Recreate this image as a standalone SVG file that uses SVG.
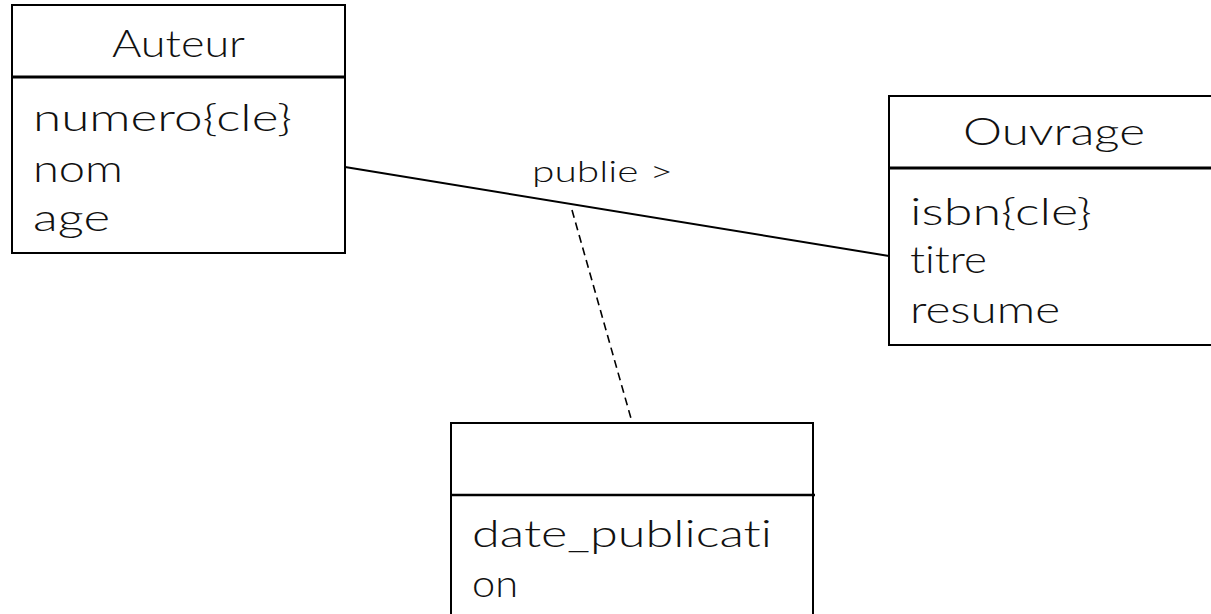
<svg xmlns="http://www.w3.org/2000/svg" width="1211" height="614" viewBox="0 0 1211 614">
<style>
.box{fill:#fff;stroke:#000;stroke-width:2}
.sep{stroke:#000;stroke-width:3}
.t{font-family:"Lato","Liberation Sans",sans-serif;font-weight:300;font-size:38px;fill:#111;font-variant-ligatures:none;font-feature-settings:"liga" 0,"dlig" 0}
.lbl{font-family:"Lato","Liberation Sans",sans-serif;font-weight:300;font-size:29px;fill:#111;font-variant-ligatures:none}
.assoc{stroke:#000;stroke-width:2;fill:none}
.dash{stroke:#000;stroke-width:1.6;fill:none;stroke-dasharray:8,5}
</style>
<rect width="1211" height="614" fill="#fff"/>
<g id="connectors">
<line class="assoc" x1="345" y1="167" x2="889" y2="256"/>
<line class="dash" x1="572" y1="210" x2="632" y2="422"/>
<text class="lbl" x="532" y="182" textLength="141" lengthAdjust="spacingAndGlyphs">publie &gt;</text>
</g>
<g id="auteur">
<rect class="box" x="12" y="5" width="333" height="248"/>
<line class="sep" x1="12" y1="77" x2="346" y2="77"/>
<text class="t" x="112" y="57" textLength="133" lengthAdjust="spacingAndGlyphs">Auteur</text>
<text class="t" x="33" y="131" textLength="259" lengthAdjust="spacingAndGlyphs">numero{cle}</text>
<text class="t" x="33" y="182" textLength="90" lengthAdjust="spacingAndGlyphs">nom</text>
<text class="t" x="33" y="231" textLength="77" lengthAdjust="spacingAndGlyphs">age</text>
</g>
<g id="ouvrage">
<rect class="box" x="889" y="96" width="330" height="249"/>
<line class="sep" x1="889" y1="168" x2="1211" y2="168"/>
<text class="t" x="963" y="145" textLength="182" lengthAdjust="spacingAndGlyphs">Ouvrage</text>
<text class="t" x="910" y="225" textLength="182" lengthAdjust="spacingAndGlyphs">isbn{cle}</text>
<text class="t" x="910" y="273" textLength="77" lengthAdjust="spacingAndGlyphs">titre</text>
<text class="t" x="910" y="323" textLength="150" lengthAdjust="spacingAndGlyphs">resume</text>
</g>
<g id="publie-class">
<rect class="box" x="451" y="423" width="362" height="200"/>
<line class="sep" x1="451" y1="495" x2="815" y2="495" style="stroke-width:2.5"/>
<text class="t" x="472" y="547" textLength="300" lengthAdjust="spacingAndGlyphs">date_publicati</text>
<text class="t" x="472" y="597" textLength="46" lengthAdjust="spacingAndGlyphs">on</text>
</g>
</svg>
